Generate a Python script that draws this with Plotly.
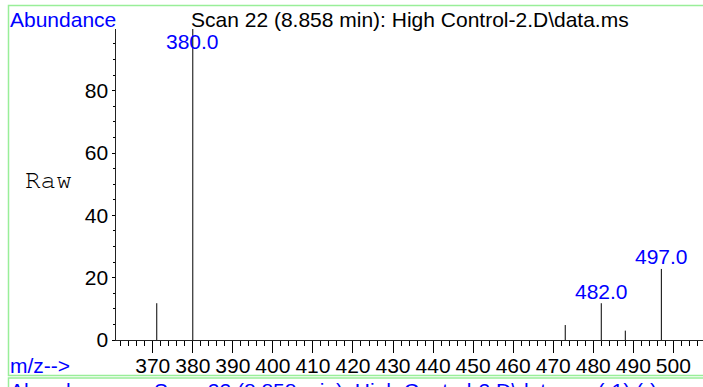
import plotly.graph_objects as go

# ---- data ----
mz = [371, 380, 473, 482, 488, 497]
abundance = [11.8, 100, 4.8, 11.8, 3.0, 22.8]
labeled_mz = [380, 482, 497]
x_tick_vals = list(range(370, 501, 10))
y_tick_vals = [0, 20, 40, 60, 80]
title_text = "Scan 22 (8.858 min): High Control-2.D\\data.ms"
footer_text = "Scan 22 (8.858 min): High Control-2.D\\data.ms (-1) (-)"

W, H = 703, 387
def px(x):
    return x / W
def py(y):
    return 1 - y / H

FONT = "Liberation Sans, Arial, sans-serif"
MONO = "Nimbus Mono PS, Nimbus Mono L, FreeMono, Courier, Liberation Mono, monospace"
BLUE = "#0000ff"
GREEN = "#99ee99"
FS = 21

xs, ys = [], []
for m, a in zip(mz, abundance):
    xs += [m, m, None]
    ys += [0, a, None]

fig = go.Figure()
fig.add_trace(go.Scatter(x=xs, y=ys, mode="lines",
                         line=dict(color="#000000", width=1),
                         hoverinfo="skip", showlegend=False))

YMAX = 99.8
annotations = []
for m in labeled_mz:
    a = abundance[mz.index(m)]
    yv = min(a, 92.0)
    annotations.append(dict(x=m, y=yv, xref="x", yref="y", text=f"{m:.1f}",
                            showarrow=False, yanchor="bottom", xanchor="center",
                            yshift=-1.5,
                            font=dict(family=FONT, size=FS, color=BLUE)))

annotations += [
    dict(x=px(8), y=py(19), xref="paper", yref="paper", text="Abundance",
         showarrow=False, xanchor="left", yanchor="middle",
         font=dict(family=FONT, size=FS, color=BLUE)),
    dict(x=px(410), y=py(19), xref="paper", yref="paper", text=title_text,
         showarrow=False, xanchor="center", yanchor="middle",
         font=dict(family=FONT, size=FS, color="#000000")),
    dict(x=px(48), y=py(180), xref="paper", yref="paper", text="Raw",
         showarrow=False, xanchor="center", yanchor="middle",
         font=dict(family=MONO, size=26, color="#000000")),
    dict(x=px(8), y=py(365), xref="paper", yref="paper", text="m/z-->",
         showarrow=False, xanchor="left", yanchor="middle",
         font=dict(family=FONT, size=FS, color=BLUE)),
    dict(x=px(8), y=py(377), xref="paper", yref="paper", text="Abundance",
         showarrow=False, xanchor="left", yanchor="top",
         font=dict(family=FONT, size=FS, color=BLUE)),
    dict(x=px(152), y=py(377), xref="paper", yref="paper", text=footer_text,
         showarrow=False, xanchor="left", yanchor="top",
         font=dict(family=FONT, size=FS, color=BLUE)),
]

shapes = [
    dict(type="rect", xref="paper", yref="paper", x0=px(8.5), x1=px(720),
         y0=py(375.5), y1=py(5.5), line=dict(color=GREEN, width=1.5)),
    dict(type="rect", xref="paper", yref="paper", x0=px(8.5), x1=px(720),
         y0=py(420), y1=py(378), line=dict(color=GREEN, width=1.5)),
]

fig.update_layout(
    width=W, height=H,
    margin=dict(l=0, r=0, t=0, b=0, autoexpand=False),
    paper_bgcolor="white", plot_bgcolor="white",
    showlegend=False,
    annotations=annotations,
    shapes=shapes,
    xaxis=dict(domain=[px(116.3), 1.0], range=[360.9, 507.4], automargin=False,
               tickvals=x_tick_vals, ticktext=[str(v) for v in x_tick_vals],
               ticks="outside", ticklen=12, tickwidth=1, tickcolor="#000",
               ticklabelstandoff=-5,
               minor=dict(dtick=2, tick0=0, ticks="outside", ticklen=5, tickwidth=1, tickcolor="#000"),
               showline=True, linecolor="#222", linewidth=1,
               showgrid=False, zeroline=False,
               tickfont=dict(family=FONT, size=FS, color="#000")),
    yaxis=dict(domain=[py(340), py(29)], range=[0, YMAX], automargin=False,
               tickvals=y_tick_vals, ticktext=[str(v) for v in y_tick_vals],
               ticks="outside", ticklen=3, tickwidth=1, tickcolor="#000",
               minor=dict(dtick=5, tick0=0, ticks="outside", ticklen=2, tickwidth=1, tickcolor="#000"),
               showline=True, linecolor="#222", linewidth=1,
               showgrid=False, zeroline=False,
               tickfont=dict(family=FONT, size=FS, color="#000")),
)

fig.write_html("out.html", config={"displayModeBar": False},
               post_script="document.body.style.margin='0';document.body.style.overflow='hidden';")
